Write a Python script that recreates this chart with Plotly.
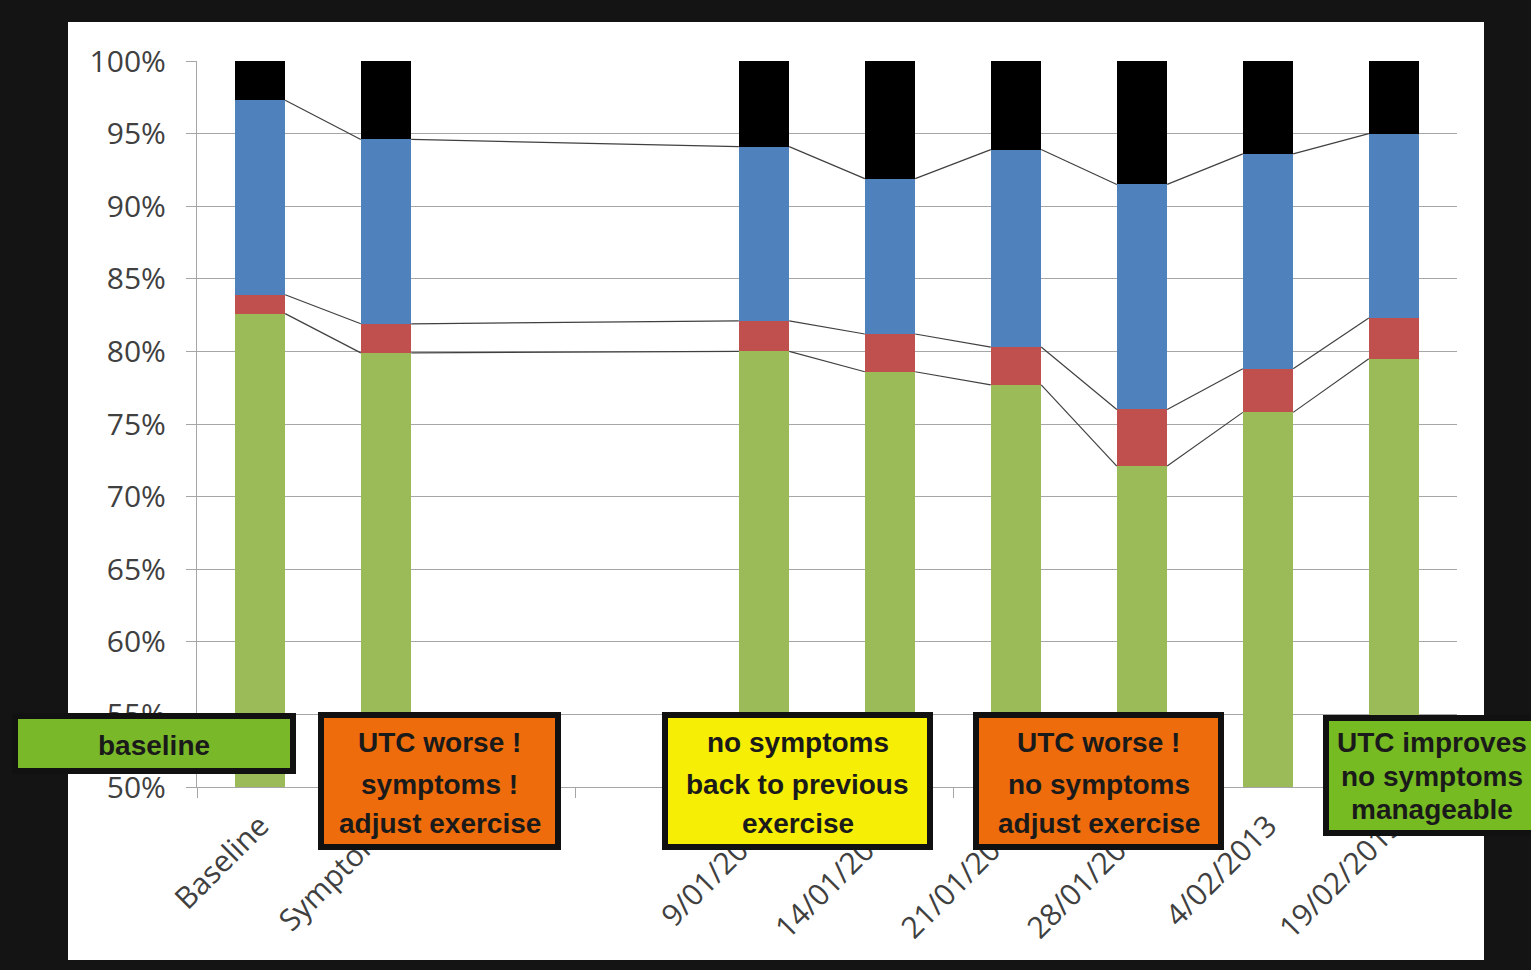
import plotly.graph_objects as go

# ---------------- data ----------------
categories = ["Baseline", "Symptoms", "", "", "9/01/2013", "14/01/2013",
              "21/01/2013", "28/01/2013", "4/02/2013", "19/02/2013"]
green = [82.6, 79.9, None, None, 80.0, 78.6, 77.7, 72.1, 75.8, 79.5]
red = [1.3, 2.0, None, None, 2.1, 2.6, 2.6, 3.9, 3.0, 2.8]
blue = [13.4, 12.7, None, None, 12.0, 10.7, 13.6, 15.5, 14.8, 12.7]
black = [2.7, 5.4, None, None, 5.9, 8.1, 6.1, 8.5, 6.4, 5.0]

box_texts = [
    ["baseline"],
    ["UTC worse !", "symptoms !", "adjust exercise"],
    ["no symptoms", "back to previous", "exercise"],
    ["UTC worse !", "no symptoms", "adjust exercise"],
    ["UTC improves", "no symptoms", "manageable"],
]
box_colors = ["#79b829", "#ee6c0c", "#f7ee05", "#ee6c0c", "#77bb22"]

# ---------------- layout geometry ----------------
W, H = 1531, 970
L, R, T, B = 197, 74, 61, 183
PW, PH = W - L - R, H - T - B


def px(X):
    return (X - L) / PW


def py(Y):
    return (H - B - Y) / PH


xs = list(range(len(categories)))
bar_w = 0.4

fig = go.Figure()
series = [("green", green, "#9bbb59"), ("red", red, "#c0504d"),
          ("blue", blue, "#4f81bd"), ("black", black, "#000000")]
for name, vals, col in series:
    fig.add_trace(go.Bar(x=xs, y=vals, name=name, width=bar_w,
                         marker=dict(color=col, line=dict(width=0)),
                         showlegend=False, hoverinfo="skip"))

# series lines connecting cumulative tops of consecutive bars
cum = []
run = [0.0] * len(xs)
for vals in (green, red, blue):
    run = [(r + v) if v is not None else None for r, v in zip(run, vals)]
    cum.append(list(run))
for level in cum:
    idx = [i for i, v in enumerate(level) if v is not None]
    lx, ly = [], []
    for a, b in zip(idx[:-1], idx[1:]):
        lx += [xs[a] + bar_w / 2, xs[b] - bar_w / 2, None]
        ly += [level[a], level[b], None]
    fig.add_trace(go.Scatter(x=lx, y=ly, mode="lines",
                             line=dict(color="#404040", width=1.2),
                             showlegend=False, hoverinfo="skip"))

shapes = [dict(type="rect", xref="paper", yref="paper",
               x0=px(68), x1=px(1484), y0=py(960), y1=py(22),
               fillcolor="white", line=dict(width=0), layer="below")]

boxes = [
    (12, 296, 713, 774, [745]),
    (318, 561, 712, 850, [742, 784, 823]),
    (662, 933, 712, 850, [742, 784, 823]),
    (973, 1224, 712, 850, [742, 784, 823]),
    (1323, 1545, 715, 836, [742, 776, 809]),
]
annotations = []
for (x0, x1, y0, y1, lines_y), texts, col in zip(boxes, box_texts, box_colors):
    shapes.append(dict(type="rect", xref="paper", yref="paper",
                       x0=px(x0 + 3), x1=px(x1 - 3), y0=py(y1 - 3), y1=py(y0 + 3),
                       fillcolor=col, line=dict(color="#111111", width=6),
                       layer="above"))
    cx = (x0 + x1) / 2 if x1 < 1531 else 1432
    for t, ly in zip(texts, lines_y):
        annotations.append(dict(xref="paper", yref="paper", x=px(cx), y=py(ly),
                                text="<b>" + t + "</b>", showarrow=False,
                                xanchor="center", yanchor="middle",
                                font=dict(family="Liberation Sans", size=28,
                                          color="#1a1a1a")))

fig.update_layout(
    width=W, height=H, autosize=False,
    margin=dict(l=L, r=R, t=T, b=B, pad=0),
    paper_bgcolor="#141414", plot_bgcolor="white",
    barmode="stack", bargap=0.6,
    shapes=shapes, annotations=annotations,
    font=dict(family="Open Sans", color="#404040"),
)
fig.update_yaxes(range=[50, 100], dtick=5, ticksuffix="%",
                 showgrid=True, gridcolor="#a6a6a6", gridwidth=1.3,
                 ticks="outside", ticklen=10, tickcolor="#a6a6a6",
                 showline=True, linecolor="#a6a6a6", linewidth=1.3,
                 ticklabelstandoff=14,
                 tickfont=dict(size=30, color="#404040"), zeroline=False)
fig.update_xaxes(range=[-0.5, len(xs) - 0.5], tickmode="array",
                 tickvals=xs, ticktext=categories, tickangle=-45,
                 ticks="", showgrid=False, zeroline=False,
                 showline=True, linecolor="#a6a6a6", linewidth=1.3,
                 ticklabelstandoff=8,
                 tickfont=dict(size=30, color="#404040"),
                 minor=dict(tickvals=[x - 0.5 for x in xs] + [xs[-1] + 0.5],
                            ticks="outside", ticklen=10, tickcolor="#a6a6a6",
                            showgrid=False))

fig.write_html("out.html")
